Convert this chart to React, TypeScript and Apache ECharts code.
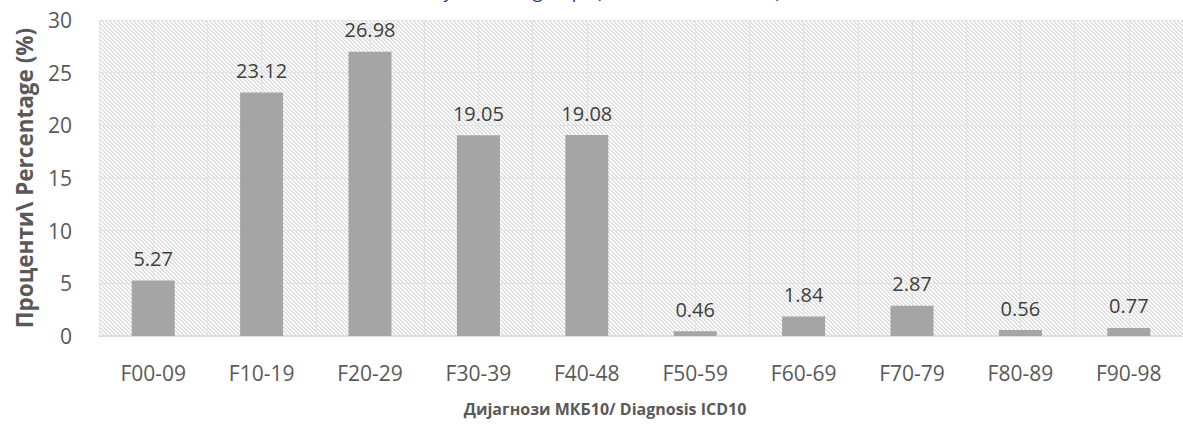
import React, { useEffect, useRef } from "react";
import * as echarts from "echarts";

const categories = ["F00-09", "F10-19", "F20-29", "F30-39", "F40-48", "F50-59", "F60-69", "F70-79", "F80-89", "F90-98"];
const percentages = [5.27, 23.12, 26.98, 19.05, 19.08, 0.46, 1.84, 2.87, 0.56, 0.77];
const yTicks = { min: 0, max: 30, interval: 5 };
const titleText = "Patients by disorder groups (ICD10 F00-F98 codes)";
const yAxisName = "Проценти\\ Percentage (%)";
const xAxisName = "Дијагнози МКБ10/ Diagnosis ICD10";

function makePattern(): HTMLCanvasElement {
  const c = document.createElement("canvas");
  c.width = 8;
  c.height = 8;
  const ctx = c.getContext("2d")!;
  ctx.fillStyle = "#ffffff";
  ctx.fillRect(0, 0, 8, 8);
  ctx.fillStyle = "#dfdfdf";
  for (let y = 0; y < 8; y++) {
    for (let x = 0; x < 8; x++) {
      const d = (((x - y) % 4) + 4) % 4;
      if (d === 0 && (x + y) % 2 === 0) ctx.fillRect(x, y, 1, 1);
      if (d === 1 && (x + y) % 2 === 1) ctx.fillRect(x, y, 1, 1);
    }
  }
  return c;
}

export default function App() {
  const ref = useRef<HTMLDivElement>(null);
  useEffect(() => {
    if (!ref.current) return;
    const chart = echarts.init(ref.current, undefined, { renderer: "svg" });
    const font = "'Open Sans', 'Noto Sans', sans-serif";
    chart.setOption({
      animation: false,
      textStyle: { fontFamily: font },
      grid: {
        left: 99,
        right: -5,
        top: 20,
        bottom: 92,
        show: true,
        borderWidth: 0,
        backgroundColor: { image: makePattern(), repeat: "repeat" },
      },
      graphic: [
        {
          type: "text",
          left: 360,
          top: -18,
          style: {
            text: titleText,
            fontSize: 18,
            fontFamily: font,
            fill: "#1f3a6e",
          },
        },
        {
          type: "text",
          x: 605,
          y: 409,
          style: {
            text: xAxisName,
            fontSize: 16,
            fontWeight: "bold",
            fontFamily: font,
            fill: "#595959",
            align: "center",
            verticalAlign: "middle",
          },
        },
      ],
      xAxis: [
        {
          type: "category",
          data: categories,
          axisTick: { show: false },
          axisLine: { lineStyle: { color: "#d9d9d9", width: 1.5 } },
          axisLabel: { fontSize: 21, color: "#595959", margin: 26, fontFamily: font, interval: 0 },
          splitLine: { show: false },
        },
        {
          type: "value",
          min: 0,
          max: categories.length * 2,
          interval: 1,
          position: "bottom",
          axisLabel: { show: false },
          axisLine: { show: false },
          axisTick: { show: false },
          splitLine: { show: true, lineStyle: { color: "#e3e3e3", width: 1 } },
        },
      ],
      yAxis: {
        type: "value",
        min: yTicks.min,
        max: yTicks.max,
        interval: yTicks.interval,
        axisLine: { show: false },
        axisTick: { show: false },
        axisLabel: { fontSize: 21, color: "#595959", margin: 27, fontFamily: font },
        splitLine: { lineStyle: { color: "#e3e3e3", width: 1 } },
        name: yAxisName,
        nameLocation: "middle",
        nameGap: 63,
        nameTextStyle: { fontSize: 22.5, fontWeight: "bold", color: "#595959", fontFamily: font },
      },
      series: [
        {
          type: "bar",
          xAxisIndex: 0,
          data: percentages,
          barWidth: 43,
          itemStyle: { color: "#a5a5a5" },
          label: {
            show: true,
            position: "top",
            distance: 12,
            fontSize: 20,
            color: "#404040",
            fontFamily: font,
            formatter: (p: any) => Number(p.value).toFixed(2),
          },
        },
      ],
    });
    return () => chart.dispose();
  }, []);
  return <div ref={ref} style={{ position: "absolute", left: 0, top: 0, width: 1183, height: 428 }} />;
}
